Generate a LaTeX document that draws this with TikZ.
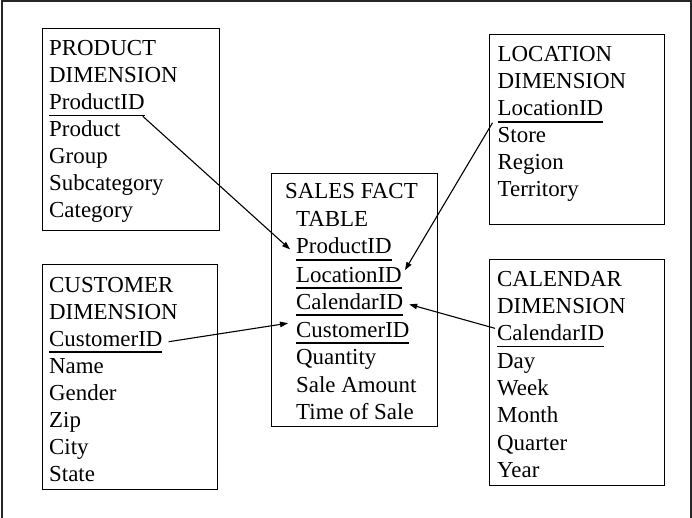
\documentclass[tikz,border=0pt]{standalone}
\usepackage{fontspec}
\setmainfont{Liberation Serif}
\usetikzlibrary{arrows.meta}
\newcommand\ulbox[1]{\setbox0\hbox{#1}\rlap{\rule[-6.6pt]{\wd0}{1.3pt}}\box0}
\tikzset{
  row/.style={anchor=base west, inner sep=0pt, font=\fontsize{22.9}{27.3}\selectfont},
  tbl/.style={draw=black, line width=1.3pt, anchor=north west, inner sep=0pt},
  link/.style={line width=1.1pt, -{Triangle[length=8pt,width=5.5pt]}},
  frame/.style={draw=black!85, line width=2pt}
}
\begin{document}
\begin{tikzpicture}[x=1pt,y=-1pt]
\useasboundingbox (0,0) rectangle (692,518);
\draw[frame] (1.5,520) -- (1.5,1) -- (690.5,1) -- (690.5,520);

% boxes
\node[tbl, minimum width=177pt, minimum height=202pt] (prodbox) at (41.7,28) {};
\node[tbl, minimum width=175pt, minimum height=225pt] (custbox) at (41.7,264) {};
\node[tbl, minimum width=166pt, minimum height=253pt] (salesbox) at (271,173) {};
\node[tbl, minimum width=175pt, minimum height=190pt] (locbox) at (489,34) {};
\node[tbl, minimum width=175pt, minimum height=226pt] (calbox) at (489,259) {};

% product
\node[row] (p1) at (49,56) {PRODUCT};
\node[row] (p2) at (49,83) {DIMENSION};
\node[row] (pid) at (49,109.5) {\ulbox{ProductID}};
\node[row] (p4) at (49,137) {Product};
\node[row] (p5) at (49,164) {Group};
\node[row] (p6) at (49,191) {Subcategory};
\node[row] (p7) at (49,218) {Category};

% customer
\node[row] (c1) at (49,292) {CUSTOMER};
\node[row] (c2) at (49,319) {DIMENSION};
\node[row] (cuid) at (49,346) {\ulbox{CustomerID}};
\node[row] (c4) at (49,373) {Name};
\node[row] (c5) at (49,400) {Gender};
\node[row] (c6) at (49,427) {Zip};
\node[row] (c7) at (49,454) {City};
\node[row] (c8) at (49,481) {State};

% sales
\node[row] (s1) at (285,199) {SALES FACT};
\node[row] (s2) at (296,227) {TABLE};
\node[row] (spid) at (296,254) {\ulbox{ProductID}};
\node[row] (slid) at (296,282) {\ulbox{LocationID}};
\node[row] (scid) at (296,309) {\ulbox{CalendarID}};
\node[row] (scuid) at (296,337) {\ulbox{CustomerID}};
\node[row] (s7) at (296,364) {Quantity};
\node[row] (s8) at (296,392) {Sale Amount};
\node[row] (s9) at (296,419) {Time of Sale};

% location
\node[row] (l1) at (497.5,62) {LOCATION};
\node[row] (l2) at (497.5,89) {DIMENSION};
\node[row] (lid) at (497.5,116) {\ulbox{LocationID}};
\node[row] (l4) at (497.5,143) {Store};
\node[row] (l5) at (497.5,170) {Region};
\node[row] (l6) at (497.5,197) {Territory};

% calendar
\node[row] (k1) at (497,286) {CALENDAR};
\node[row] (k2) at (497,313) {DIMENSION};
\node[row] (cid) at (497,340.5) {\ulbox{CalendarID}};
\node[row] (k4) at (497,368) {Day};
\node[row] (k5) at (497,395) {Week};
\node[row] (k6) at (497,422) {Month};
\node[row] (k7) at (497,450) {Quarter};
\node[row] (k8) at (497,477) {Year};

% connectors
\draw[link] ([xshift=-2pt]pid.south east) -- ([xshift=-6pt]spid.west);
\draw[link] ([xshift=-5pt]lid.south west) -- ([xshift=3pt,yshift=-3.5pt]slid.north east);
\draw[link] ([xshift=-2pt,yshift=7.5pt]cid.west) -- ([xshift=6pt]scid.east);
\draw[link] ([xshift=6pt]cuid.east) -- ([xshift=-8pt,yshift=9.5pt]scuid.west);
\end{tikzpicture}
\end{document}
